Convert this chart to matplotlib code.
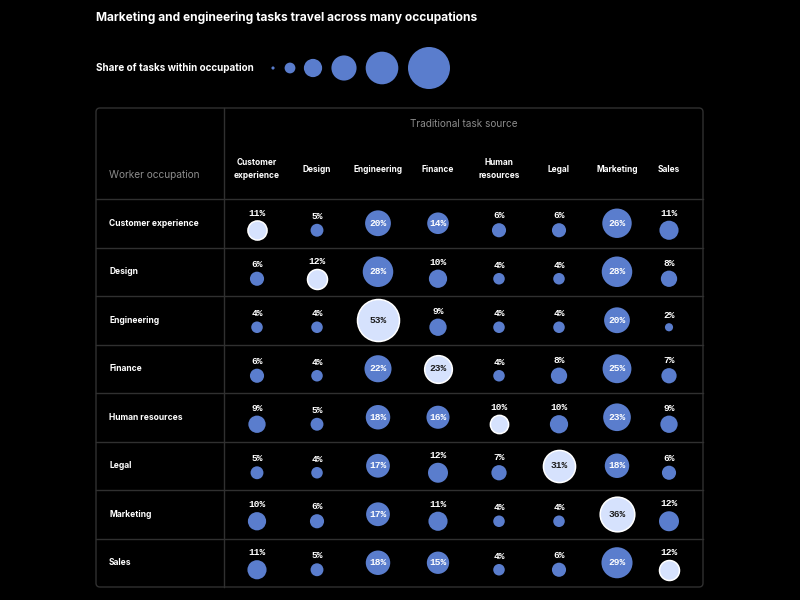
import matplotlib
matplotlib.use("Agg")
import matplotlib.pyplot as plt
from matplotlib.patches import FancyBboxPatch
import numpy as np

# data
occupations = ["Customer experience", "Design", "Engineering", "Finance",
               "Human resources", "Legal", "Marketing", "Sales"]
sources = ["Customer\nexperience", "Design", "Engineering", "Finance",
           "Human\nresources", "Legal", "Marketing", "Sales"]
share_cx = [11, 5, 20, 14, 6, 6, 26, 11]
share_design = [6, 12, 28, 10, 4, 4, 28, 8]
share_eng = [4, 4, 53, 9, 4, 4, 20, 2]
share_finance = [6, 4, 22, 23, 4, 8, 25, 7]
share_hr = [9, 5, 18, 16, 10, 10, 23, 9]
share_legal = [5, 4, 17, 12, 7, 31, 18, 6]
share_marketing = [10, 6, 17, 11, 4, 4, 36, 12]
share_sales = [11, 5, 18, 15, 4, 6, 29, 12]
legend_values = [0.3, 3.5, 10, 19, 32, 53]

shares = np.array([share_cx, share_design, share_eng, share_finance,
                   share_hr, share_legal, share_marketing, share_sales])

# style / layout (pixels)
BG = "#000000"
BLUE = "#5a7dcd"
LIGHT = "#d6e2fd"
GRID = "#303030"
GRAY = "#8c8c8c"
FONT = "Inter"
MONO = "Liberation Mono"

col_x = [257, 317, 378, 438, 499, 559, 617, 669]
left, right, top, bottom = 96, 703, 108, 587
split_x = 224
header_bottom = 199
row_h = (bottom - header_bottom) / len(occupations)
px_per_sqrt = 2.885  # circle radius in px per sqrt(percent)


def size_of(v):
    d_pt = 2 * px_per_sqrt * np.sqrt(v) * 0.72
    return d_pt ** 2


fig = plt.figure(figsize=(8, 6), dpi=100, facecolor=BG)
ax = fig.add_axes([0, 0, 1, 1])
ax.set_facecolor(BG)
ax.set_xlim(0, 800)
ax.set_ylim(600, 0)
ax.axis("off")

# title and legend
ax.text(96, 18, "Marketing and engineering tasks travel across many occupations",
        color="white", fontsize=8.6, fontweight="bold", family=FONT, va="center")
ax.text(96, 68, "Share of tasks within occupation", color="white", fontsize=7.1,
        fontweight="bold", family=FONT, va="center")
legend_x = [273, 290, 313, 344, 382, 429]
ax.scatter(legend_x, [68] * len(legend_x), s=[size_of(v) for v in legend_values],
           color=BLUE, linewidths=0)

# table frame
frame = FancyBboxPatch((left, top), right - left, bottom - top,
                       boxstyle="round,pad=0,rounding_size=4",
                       facecolor="none", edgecolor=GRID, linewidth=1)
ax.add_patch(frame)
ax.plot([split_x, split_x], [top, bottom], color=GRID, lw=1)
for i in range(len(occupations)):
    y = header_bottom + i * row_h
    ax.plot([left, right], [y, y], color=GRID, lw=1)

# header
ax.text((split_x + right) / 2, 124, "Traditional task source", color=GRAY,
        fontsize=7.2, family=FONT, ha="center", va="center")
ax.text(109, 175, "Worker occupation", color=GRAY, fontsize=7.3, family=FONT,
        va="center")
for x, name in zip(col_x, sources):
    ax.text(x, 169, name, color="white", fontsize=6.0, fontweight="bold",
            family=FONT, ha="center", va="center", linespacing=1.55)

# rows
for i, occ in enumerate(occupations):
    yc = header_bottom + (i + 0.5) * row_h
    ax.text(109, yc, occ, color="white", fontsize=6.1, fontweight="bold",
            family=FONT, va="center")
    for j, x in enumerate(col_x):
        v = shares[i, j]
        diag = i == j
        face = LIGHT if diag else BLUE
        r = px_per_sqrt * np.sqrt(v)
        inside = v >= 13
        cy = yc if inside else yc + 7
        ax.scatter([x], [cy], s=size_of(v), color=face,
                   edgecolors="white" if diag else "none",
                   linewidths=1.1 if diag else 0, zorder=3)
        label = f"{v}%"
        if inside:
            ax.text(x, cy, label, color="#1c1c1c" if diag else "white",
                    fontsize=6.8, fontweight="bold", family=MONO,
                    ha="center", va="center", zorder=4)
        else:
            ax.text(x, cy - r - 7.5, label, color="white", fontsize=6.8,
                    fontweight="bold", family=MONO, ha="center", va="center",
                    zorder=4)

fig.savefig("out.png", dpi=100, facecolor=BG)
